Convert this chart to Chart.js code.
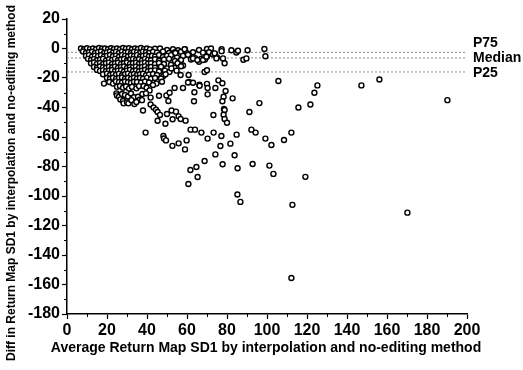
<!DOCTYPE html>
<html><head><meta charset="utf-8">
<script src="https://cdn.jsdelivr.net/npm/chart.js@4/dist/chart.umd.min.js"></script>
<style>html,body{margin:0;padding:0;background:#fff;}#wrap{width:523px;height:370px;}</style>
</head><body><div id="wrap"><canvas id="c" width="523" height="370"></canvas></div>
<script>
// Average Return Map SD1 (x)
const avgSD1 = [
  7, 8.5, 10, 11.5, 13, 14.5, 16, 17.5, 19, 20.5, 22, 23.5, 25, 26.5, 28, 29.5, 31, 32.5, 34, 35.5, 37, 38.5, 40, 41.5, 44, 46.5, 50, 53, 55.5, 59, 66, 70, 72, 77.3,
  8, 9.5, 11, 12.5, 14, 15.5, 17, 18.5, 20, 21.5, 23, 24.5, 26, 27.5, 29, 30.5, 32, 33.5, 35, 36.5, 38, 39.5, 41, 43, 45, 48, 51, 54, 57, 60, 63, 68, 71, 74, 77.3,
  9.5, 11, 12.5, 14, 15.5, 17, 18.5, 20, 21.5, 23, 24.5, 26, 27.5, 29, 30.5, 32, 33.5, 35, 36.5, 38, 39.5, 41, 42.5, 44, 46, 48, 50, 52, 55, 58, 61, 64, 67, 70, 73,
  10.5, 12, 13.5, 15, 16.5, 18, 19.5, 21, 22.5, 24, 25.5, 27, 28.5, 30, 31.5, 33, 34.5, 36, 37.5, 39, 40.5, 42, 44, 46, 48.5, 51, 54, 57, 62, 66, 69, 75,
  12, 13.5, 15, 16.5, 18, 19.5, 21, 22.5, 24, 25.5, 27, 28.5, 30, 31.5, 33, 34.5, 36, 37.5, 39, 40.5, 42, 44, 46, 48.5, 52, 55.3, 58,
  13.5, 15, 16.5, 18, 19.5, 21, 22.5, 24, 25.5, 27, 28.5, 30, 31.5, 33, 34.5, 36, 37.5, 39, 40.5, 42, 44, 47, 50, 53.7,
  15, 16.5, 18, 19.5, 21, 22.5, 24, 25.5, 27, 28.5, 30, 31.5, 33, 34.5, 36, 37.5, 39, 40.5, 42, 44, 46, 49, 51.2,
  18, 20, 21.5, 23, 24.5, 26, 27.5, 29, 30.5, 32, 33.5, 35, 36.5, 38, 39.5, 41, 43, 45, 48.2, 49.3,
  20, 21.5, 23, 24.5, 26, 27.5, 29, 30.5, 32, 33.5, 35, 36.5, 38, 40, 42, 44, 47,
  18.5, 21.2, 23, 24.5, 26, 27.5, 29, 30.5, 32, 33.5, 35, 37, 39, 41, 44.7, 47.5,
  25, 26.5, 28, 29.5, 31, 32.5, 34.7, 36, 38.3, 39.8, 41.3, 43,
  24.7, 25, 26, 27.5, 29, 30.5, 32, 33.5, 35.5, 36.3, 37.7, 39.5, 41.8,
  26.7, 28, 28.3, 30, 30.7, 32.2, 33.7, 34.7, 37.5,
  38, 39.3, 41.8, 43.3, 44.5, 45.3, 45.3, 46.5, 46, 48.2, 48.5, 49.5, 49.2, 49.7, 50.7, 50, 51.3, 52.3, 52.8, 52.7,
  53.8, 54.5, 55.8, 55.8, 56.8, 59.3, 58, 59, 59.8, 56.8, 60.8, 52.2, 54.8, 57, 60.5,
  61, 61.8, 61.7, 60.7, 63, 63.7, 63.5, 64, 64.7, 65.3, 66.2, 67.2, 68.8, 70, 70.3, 70.3, 70.3, 73.2, 73.3, 74.2,
  74.2, 75.7, 76.7, 77.2, 77.7, 77.8, 78.3, 77.7, 78.5, 78.8, 78.3, 78.8, 80, 79.3, 81.7, 82.8, 83.8, 84.8, 85.3, 85.2, 86.7, 66.3, 60.5,
  63, 65.2, 68, 69.7, 73.8, 74.7, 78, 78.8, 68.8, 70, 82.2, 84.7, 85.5, 90.3, 88.2, 89.7, 98.7, 99.2, 58.8, 54.2,
  91.2, 92.2, 92.8, 94.3, 96.2, 99.2, 101.2, 102.2, 103.2, 105.7, 108.5, 112.2, 112.2, 112.7, 115.7, 119.2, 121.7, 123.7, 125.2, 147.2,
  156.2, 170.2, 190.2
];
// Difference in Return Map SD1 (y)
const diffSD1 = [
  0, -0.5, 0.2, -0.4, 0, -0.6, 0.3, -0.2, 0, -0.5, 0.2, -0.3, 0, -0.6, 0.3, -0.1, 0.2, -0.5, 0, -0.3, 0.3, -0.4, 0, -0.6, -0.2, 0, -1, -0.5, -1.2, -0.5, -1, -0.3, 0, -0.5,
  -2, -3, -2.5, -2.2, -3, -2.4, -2, -3.1, -2.6, -2, -2.8, -2.3, -3, -2.1, -2.7, -2.4, -3, -2.2, -2.6, -3, -2.1, -2.5, -3, -2.2, -2.8, -2, -3, -2.5, -2.2, -3.2, -2.5, -2.8, -2.5, -3.5, -1.8,
  -5, -4.5, -5.5, -4.8, -5.2, -4.6, -5.5, -5, -4.4, -5.3, -4.8, -5.6, -4.5, -5, -5.4, -4.7, -5.2, -4.5, -5.6, -5, -4.6, -5.3, -4.9, -5.5, -4.4, -5.8, -5, -4.5, -6, -5, -4.5, -6.5, -7, -5.5, -4,
  -7, -7.8, -7.2, -8, -7.5, -7, -8.2, -7.4, -7.9, -7, -8, -7.5, -7.1, -8.1, -7.6, -7.2, -7.9, -7.3, -8.2, -7, -7.7, -8, -7.3, -8.4, -7.5, -7, -8.5, -7.8, -7.5, -9, -7.5, -6,
  -10, -9.5, -10.4, -9.8, -10.6, -10, -9.6, -10.5, -10.1, -9.7, -10.6, -10, -9.5, -10.4, -10, -9.7, -10.5, -10.1, -9.6, -10.3, -10, -10.6, -9.8, -10.5, -11, -10, -11.5,
  -12.5, -13, -12.2, -12.8, -13.1, -12.4, -12.9, -12.3, -13, -12.6, -12.2, -13.2, -12.5, -12.8, -12.3, -13, -12.6, -12.1, -13.2, -12.5, -13, -12.4, -13.5, -13,
  -14.5, -15.2, -14.8, -15.5, -15, -14.6, -15.4, -15, -14.7, -15.6, -15, -14.5, -15.3, -14.9, -15.5, -15, -14.6, -15.4, -15.1, -14.8, -15.6, -15, -15.9,
  -17.5, -17, -18, -17.4, -17.8, -17.2, -18.1, -17.5, -17, -17.9, -17.3, -18, -17.5, -17.1, -18.2, -17.6, -17.3, -18, -18.6, -17.5,
  -20, -20.5, -19.8, -20.6, -20.1, -19.7, -20.5, -20, -20.6, -19.8, -20.4, -20, -20.6, -19.9, -20.5, -20, -20.3,
  -23.8, -22.7, -23.8, -22.3, -22.8, -23, -22.4, -22.9, -23.2, -22.5, -22.7, -23, -22.4, -23, -23.8, -22.5,
  -26, -25.4, -26.6, -25.8, -27.2, -26, -27, -25.5, -25.4, -26.6, -28.4, -24.7,
  -30.4, -31.8, -32.7, -30.8, -31.5, -32.5, -30.5, -33, -32.7, -34.7, -30.8, -30.4, -33.3,
  -34.5, -35.6, -37.2, -36.5, -37.2, -35, -37.7, -36.3, -35,
  -42, -57, -38, -40, -41.5, -43, -49, -45, -32, -59.3, -61, -62.3, -51, -31.8, -35.6, -44.4, -30, -42, -48, -66,
  -26.8, -42.8, -46, -64.3, -47.8, -48.9, -26.8, -68.4, -62.3, -18, -18, -13.5, -15, -12, -4.2,
  -22.7, -55, -82.4, -91.9, -23.2, -29.7, -35.8, -55, -80.3, -87.1, -24.5, -57, -76.3, -24, -26.8, -31.1, -61.1, -45.1, -57, -26.8,
  -71.8, -21.6, -66.1, -59.3, -23.6, -78.5, -32.7, -35.8, -41, -41.7, -44.9, -47.8, -50.3, -28.8, -64.5, -33.8, -72.4, -58.4, -81.2, -99, -104, -25.3, -23,
  -6.7, -7.8, -7.8, -5.6, -3.3, -6.7, -6.7, -10, -15.9, -14.7, -1.2, -2.7, -1.5, -1.2, -7.6, -6.7, -0.3, -5.3, -0.5, -3,
  -43, -55, -78.3, -57, -37, -61.1, -79.4, -65.4, -85, -22, -62, -57, -155.6, -106, -40, -87, -38, -30, -25, -25,
  -21, -111.3, -35
];
// Percentile reference lines
const refNames = ['P75', 'Median', 'P25'];
const refValues = [-2.6, -6.4, -15.9];
const xRange = [0, 200];
const yRange = [-180, 20];
const xTitle = 'Average Return Map SD1 by interpolation and no-editing method';
const yTitle = 'Diff in Return Map SD1 by interpolation and no-editing method';

const FONT = '"Liberation Sans", Arial, Helvetica, sans-serif';
const points = avgSD1.map((x, i) => ({ x: x, y: diffSD1[i] }));

const refDatasets = refValues.map((v, i) => ({
  type: 'line',
  label: refNames[i],
  data: [{ x: xRange[0], y: v }, { x: xRange[1], y: v }],
  borderColor: '#8a8a8a',
  borderWidth: 1,
  borderDash: [2, 2],
  pointRadius: 0,
  order: 2
}));

const labelShift = [-9, 0, 1];
const extras = {
  id: 'extras',
  afterDraw(chart) {
    const { ctx, scales: { x, y } } = chart;
    ctx.save();
    ctx.strokeStyle = '#000';
    ctx.lineWidth = 1;
    y.ticks.forEach(t => {
      if (t.value % 20 !== 0) {
        const py = Math.round(y.getPixelForValue(t.value)) + 0.5;
        ctx.beginPath(); ctx.moveTo(y.right - 3, py); ctx.lineTo(y.right, py); ctx.stroke();
      }
    });
    x.ticks.forEach(t => {
      if (t.value % 20 !== 0) {
        const px = Math.round(x.getPixelForValue(t.value)) + 0.5;
        ctx.beginPath(); ctx.moveTo(px, x.top); ctx.lineTo(px, x.top + 3); ctx.stroke();
      }
    });
    ctx.fillStyle = '#000';
    ctx.textBaseline = 'middle';
    ctx.textAlign = 'left';
    ctx.font = 'bold 14px ' + FONT;
    refNames.forEach((n, i) => {
      ctx.fillText(n, x.right + 6, y.getPixelForValue(refValues[i]) + labelShift[i]);
    });
    // x axis title, centred under the figure
    ctx.textAlign = 'center';
    ctx.font = 'bold 14px ' + FONT;
    ctx.fillText(xTitle, 266, 348);
    // y axis title, centred on the canvas height
    ctx.save();
    ctx.translate(12, chart.height / 2 - 2);
    ctx.rotate(-Math.PI / 2);
    ctx.textAlign = 'center';
    ctx.font = 'bold 12px ' + FONT;
    ctx.fillText(yTitle, 0, 0);
    ctx.restore();
    ctx.restore();
  }
};

const tickColor = c => (c.tick && c.tick.value % 20 !== 0) ? 'rgba(0,0,0,0)' : '#000';

new Chart(document.getElementById('c'), {
  type: 'scatter',
  data: {
    datasets: [{
      label: 'Diff',
      data: points,
      pointStyle: 'circle',
      pointRadius: 2.5,
      pointBorderWidth: 1.4,
      borderColor: '#000',
      backgroundColor: '#fff',
      pointHoverRadius: 2.5,
      order: 1
    }, ...refDatasets]
  },
  options: {
    responsive: false,
    animation: false,
    events: [],
    layout: { padding: { top: 19, right: 56, left: 0, bottom: 0 } },
    plugins: { legend: { display: false }, tooltip: { enabled: false } },
    scales: {
      x: {
        type: 'linear',
        min: xRange[0], max: xRange[1],
        afterFit: s => { s.height = 56; },
        border: { display: true, color: '#000', width: 1.5 },
        grid: { drawOnChartArea: false, drawTicks: true, tickLength: 5, tickColor: tickColor, tickWidth: 1.2 },
        ticks: {
          stepSize: 10, autoSkip: false, maxRotation: 0, padding: 2,
          color: '#000', font: { family: FONT, size: 16, weight: 'bold' },
          callback: v => (v % 20 === 0 ? String(v) : '')
        },
        title: { display: false }
      },
      y: {
        type: 'linear',
        min: yRange[0], max: yRange[1],
        afterFit: s => { s.width = 67; },
        border: { display: true, color: '#000', width: 1.5 },
        grid: { drawOnChartArea: false, drawTicks: true, tickLength: 5, tickColor: tickColor, tickWidth: 1.2 },
        ticks: {
          stepSize: 10, autoSkip: false, padding: 2,
          color: '#000', font: { family: FONT, size: 16, weight: 'bold' },
          callback: v => (v % 20 === 0 ? String(v) : '')
        },
        title: { display: false }
      }
    }
  },
  plugins: [extras]
});
</script>
</body></html>
